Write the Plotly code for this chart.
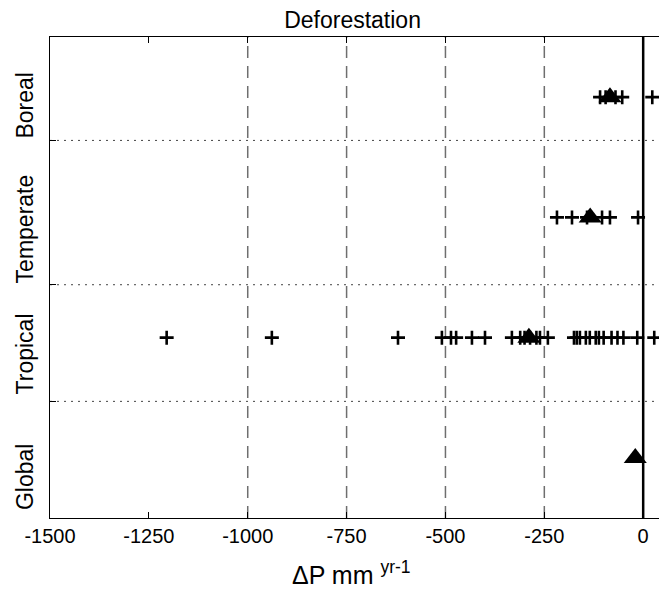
import plotly.graph_objects as go

# rows (Global=1 ... Boreal=4)
regions = ["Global", "Tropical", "Temperate", "Boreal"]
region_pos = [1, 2, 3, 4]

boreal_x = [-109, -95, -70, -53, 23]
temperate_x = [-218, -180, -142, -104, -84, -13]
tropical_x = [-1205, -939, -620, -509, -486, -473, -433, -400, -332, -311, -300,
              -286, -270, -261, -241, -175, -168, -160, -145, -135, -120, -112,
              -100, -80, -65, -50, -15, 28]
mean_x = [-20, -289, -134, -84]   # Global, Tropical, Temperate, Boreal

x_ticks = [-1500, -1250, -1000, -750, -500, -250, 0]
x_ticktext = ["-1500", "-1250", "-1000", "-750", "-500", "-250", "0"]
dashed_at = [-1000, -750, -500, -250]
row_breaks = [1.47, 2.44, 3.64]
label_pos = [0.84, 1.86, 2.9, 3.93]

fig = go.Figure()

for xv in dashed_at:
    fig.add_shape(type="line", x0=xv, x1=xv, y0=0.5, y1=4.5, xref="x", yref="y",
                  line=dict(color="#6e6e6e", width=1.5, dash="12px,8px"), layer="below")
for yv in row_breaks:
    fig.add_shape(type="line", x0=-1500, x1=40, y0=yv, y1=yv, xref="x", yref="y",
                  line=dict(color="#444444", width=1, dash="2px,5px"), layer="below")
fig.add_shape(type="line", x0=0, x1=0, y0=0.5, y1=4.5, xref="x", yref="y",
              line=dict(color="black", width=2.5))

plus = dict(symbol="cross-thin", size=10, color="black", line=dict(color="black", width=2.6))
fig.add_trace(go.Scatter(x=boreal_x, y=[4] * len(boreal_x), mode="markers", marker=plus))
fig.add_trace(go.Scatter(x=temperate_x, y=[3] * len(temperate_x), mode="markers", marker=plus))
fig.add_trace(go.Scatter(x=tropical_x, y=[2] * len(tropical_x), mode="markers", marker=plus))
fig.add_trace(go.Scatter(x=mean_x, y=region_pos, mode="markers",
                         marker=dict(symbol="triangle-up", size=20, color="black")))

for name, pos in zip(regions, label_pos):
    fig.add_annotation(text=name, x=0, xref="paper", y=pos, yref="y",
                       xanchor="right", yanchor="middle", xshift=-10, textangle=-90,
                       showarrow=False, font=dict(size=23, color="black"))

# x axis title, placed by hand below the tick labels
fig.add_annotation(text="ΔP mm <sup>yr-1</sup>", x=0.495, xref="paper", y=-0.115, yref="paper",
                   xanchor="center", yanchor="middle", showarrow=False,
                   font=dict(size=25, color="black"))

fig.update_layout(
    width=659, height=590,
    margin=dict(l=50, r=0, t=37, b=72),
    paper_bgcolor="white", plot_bgcolor="white",
    showlegend=False,
    font=dict(family="Liberation Sans, Arial, sans-serif", color="black"),
    title=dict(text="Deforestation", x=0.535, xanchor="center", y=0.966, yanchor="middle",
               font=dict(size=23, color="black")),
)
fig.update_xaxes(range=[-1500, 40], tickvals=x_ticks, ticktext=x_ticktext, ticks="inside",
                 ticklen=6, tickcolor="black", showgrid=False, zeroline=False, showline=True,
                 linecolor="black", linewidth=1, mirror="ticks", automargin=False,
                 tickfont=dict(size=20, color="black"))
fig.update_yaxes(range=[0.5, 4.5], tickvals=row_breaks, ticktext=["", "", ""],
                 ticks="inside", ticklen=6, tickcolor="black", showgrid=False,
                 zeroline=False, showline=True, linecolor="black", linewidth=1,
                 mirror=True, automargin=False)

# page body has a default 8px margin; drop it so the figure sits at the corner
fig.write_html("out.html", config={"displayModeBar": False},
               post_script="document.body.style.margin='0';document.body.style.overflow='hidden';")
